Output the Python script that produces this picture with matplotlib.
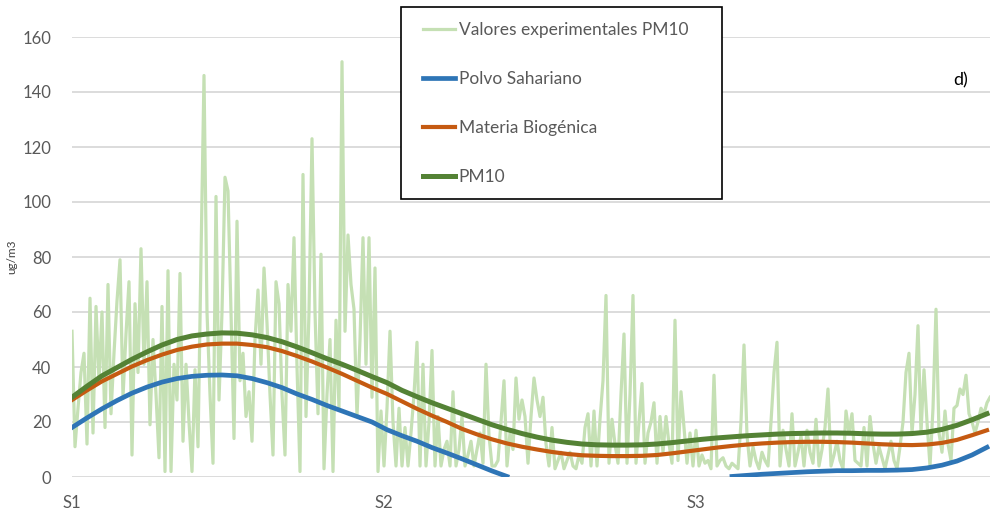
import numpy as np
import matplotlib.pyplot as plt
from matplotlib.patches import Rectangle

plt.rcParams['font.family'] = ['Lato', 'DejaVu Sans']

# daily PM10 measurements (ug/m3)
pm10_obs = [
    53, 11, 25, 38, 45, 12, 65, 16, 62, 35,
    60, 18, 70, 23, 45, 64, 79, 29, 52, 71,
    8, 63, 38, 83, 41, 71, 19, 50, 30, 7,
    62, 2, 75, 2, 41, 28, 74, 13, 41, 20,
    2, 39, 11, 80, 146, 60, 30, 5, 102, 28,
    60, 109, 104, 60, 14, 93, 35, 45, 22, 31,
    13, 50, 68, 41, 76, 56, 30, 8, 71, 63,
    30, 8, 70, 53, 87, 40, 2, 110, 22, 60,
    123, 60, 23, 81, 3, 30, 50, 2, 57, 25,
    151, 53, 88, 70, 61, 22, 50, 87, 41, 87,
    29, 76, 2, 24, 4, 25, 53, 20, 4, 25,
    4, 18, 4, 16, 30, 49, 4, 41, 4, 20,
    46, 4, 22, 4, 10, 13, 4, 31, 4, 10,
    22, 4, 8, 13, 4, 10, 16, 5, 41, 15,
    4, 4, 6, 20, 35, 4, 16, 10, 36, 21,
    28, 22, 5, 22, 36, 28, 22, 29, 12, 4,
    18, 3, 6, 9, 3, 6, 9, 4, 3, 8,
    5, 18, 23, 4, 24, 4, 21, 35, 66, 5,
    21, 12, 5, 30, 52, 5, 30, 66, 5, 20,
    34, 5, 16, 20, 27, 5, 22, 9, 22, 12,
    5, 57, 6, 31, 18, 5, 16, 4, 17, 4,
    8, 5, 6, 3, 37, 4, 6, 7, 4, 3,
    5, 4, 3, 20, 48, 15, 4, 11, 6, 3,
    9, 6, 4, 20, 38, 49, 4, 17, 10, 4,
    23, 4, 9, 15, 4, 17, 9, 5, 21, 4,
    10, 18, 32, 4, 8, 13, 6, 3, 24, 16,
    23, 6, 5, 4, 18, 4, 22, 12, 5, 11,
    7, 3, 8, 13, 6, 3, 11, 20, 38, 45,
    16, 30, 55, 16, 39, 20, 4, 25, 61, 16,
    9, 24, 12, 6, 25, 26, 32, 30, 37, 23,
    20, 16, 20, 25, 23, 27, 29,
]

# model contributions, one value every 5 days
model_step = 5
polvo_sahariano = [
    18, 21.5, 24.8, 27.8, 30.5, 32.7, 34.5, 35.8, 36.6, 37,
    37.1, 36.8, 35.8, 34.3, 32.5, 30.2, 28.2, 26, 24, 22,
    20, 17.2, 15, 13, 10.7, 8.7, 6.6, 4.4, 2.2, 0.2,
    np.nan, np.nan, np.nan, np.nan, np.nan, np.nan, np.nan, np.nan, np.nan, np.nan,
    np.nan, np.nan, np.nan, np.nan, 0.2, 0.6, 1, 1.3, 1.6, 1.9,
    2.1, 2.3, 2.3, 2.4, 2.4, 2.5, 2.7, 3.3, 4.3, 5.8,
    8, 10.8,
]
materia_biogenica = [
    28, 31.5, 34.8, 37.5, 40.2, 42.5, 44.5, 46.2, 47.4, 48.2,
    48.5, 48.5, 48, 47.2, 45.8, 44, 42, 39.8, 37.5, 35,
    32.5, 30.2, 27.5, 24.8, 22.3, 20, 17.5, 15.5, 13.7, 12.2,
    11, 10, 9.1, 8.4, 7.9, 7.7, 7.6, 7.6, 7.7, 8,
    8.6, 9.3, 10, 10.7, 11.3, 11.8, 12.2, 12.5, 12.7, 12.8,
    12.8, 12.7, 12.5, 12.2, 11.9, 11.7, 11.6, 11.8, 12.4, 13.5,
    15.2, 17,
]
pm10_model = [
    29, 33, 36.8, 39.8, 42.8, 45.5, 48, 50, 51.3, 52,
    52.4, 52.3, 51.7, 50.7, 49.2, 47.3, 45.2, 43, 41, 38.8,
    36.5, 34.3, 31.5, 29.2, 27, 25, 23, 21, 19, 17.3,
    15.8, 14.5, 13.4, 12.6, 12, 11.7, 11.6, 11.6, 11.7, 12,
    12.5, 13.1, 13.7, 14.2, 14.6, 15, 15.3, 15.6, 15.8, 15.9,
    16, 16, 15.9, 15.7, 15.6, 15.6, 15.8, 16.3, 17.3, 18.8,
    20.8, 23,
]

season_ticks = [0, 104, 208]
season_labels = ['S1', 'S2', 'S3']

days = np.arange(len(pm10_obs))
model_days = np.arange(len(pm10_model)) * model_step

fig = plt.figure(figsize=(9.9, 5.18), dpi=100)
ax = fig.add_axes([72 / 990, 41 / 518, 1 - 72 / 990, 440 / 518])

ax.plot(days, pm10_obs, color='#c5e0b4', lw=2.3, label='Valores experimentales PM10', zorder=2)
ax.plot(model_days, polvo_sahariano, color='#2e75b6', lw=3.4, label='Polvo Sahariano', zorder=3)
ax.plot(model_days, materia_biogenica, color='#c55a11', lw=3.0, label='Materia Biogénica', zorder=4)
ax.plot(model_days, pm10_model, color='#548235', lw=3.6, label='PM10', zorder=5)

ax.set_xlim(0, 306)
ax.set_ylim(0, 160)
ax.set_yticks(np.arange(0, 161, 20))
ax.set_xticks(season_ticks)
ax.set_xticklabels(season_labels)
ax.grid(axis='y', color='#d9d9d9', lw=1.3)
ax.set_axisbelow(True)
for s in ax.spines.values():
    s.set_visible(False)
ax.tick_params(length=0, labelsize=12, labelcolor='#595959')
ax.tick_params(axis='y', pad=15)
ax.tick_params(axis='x', pad=13)
ax.set_ylabel('ug/m3', fontsize=8.5, color='#404040')
ax.yaxis.set_label_coords(-0.06, 0.5)

# legend box sits over the plot
fig.patches.append(Rectangle((401 / 990, 1 - 199 / 518), 321 / 990, 192 / 518,
                             transform=fig.transFigure, facecolor='white',
                             edgecolor='black', lw=1.2, zorder=4))
handles, labels = ax.get_legend_handles_labels()
fig.legend(handles, labels, loc='upper left', bbox_to_anchor=(423 / 990, 1 - 22 / 518),
           frameon=False, fontsize=12.5, labelcolor='#595959', borderpad=0,
           borderaxespad=0, handlelength=1.85, handletextpad=0.2, labelspacing=1.9)

fig.text(953 / 990, 1 - 80 / 518, 'd)', fontsize=13, color='black', va='center')

fig.savefig('out.png', dpi=100)
